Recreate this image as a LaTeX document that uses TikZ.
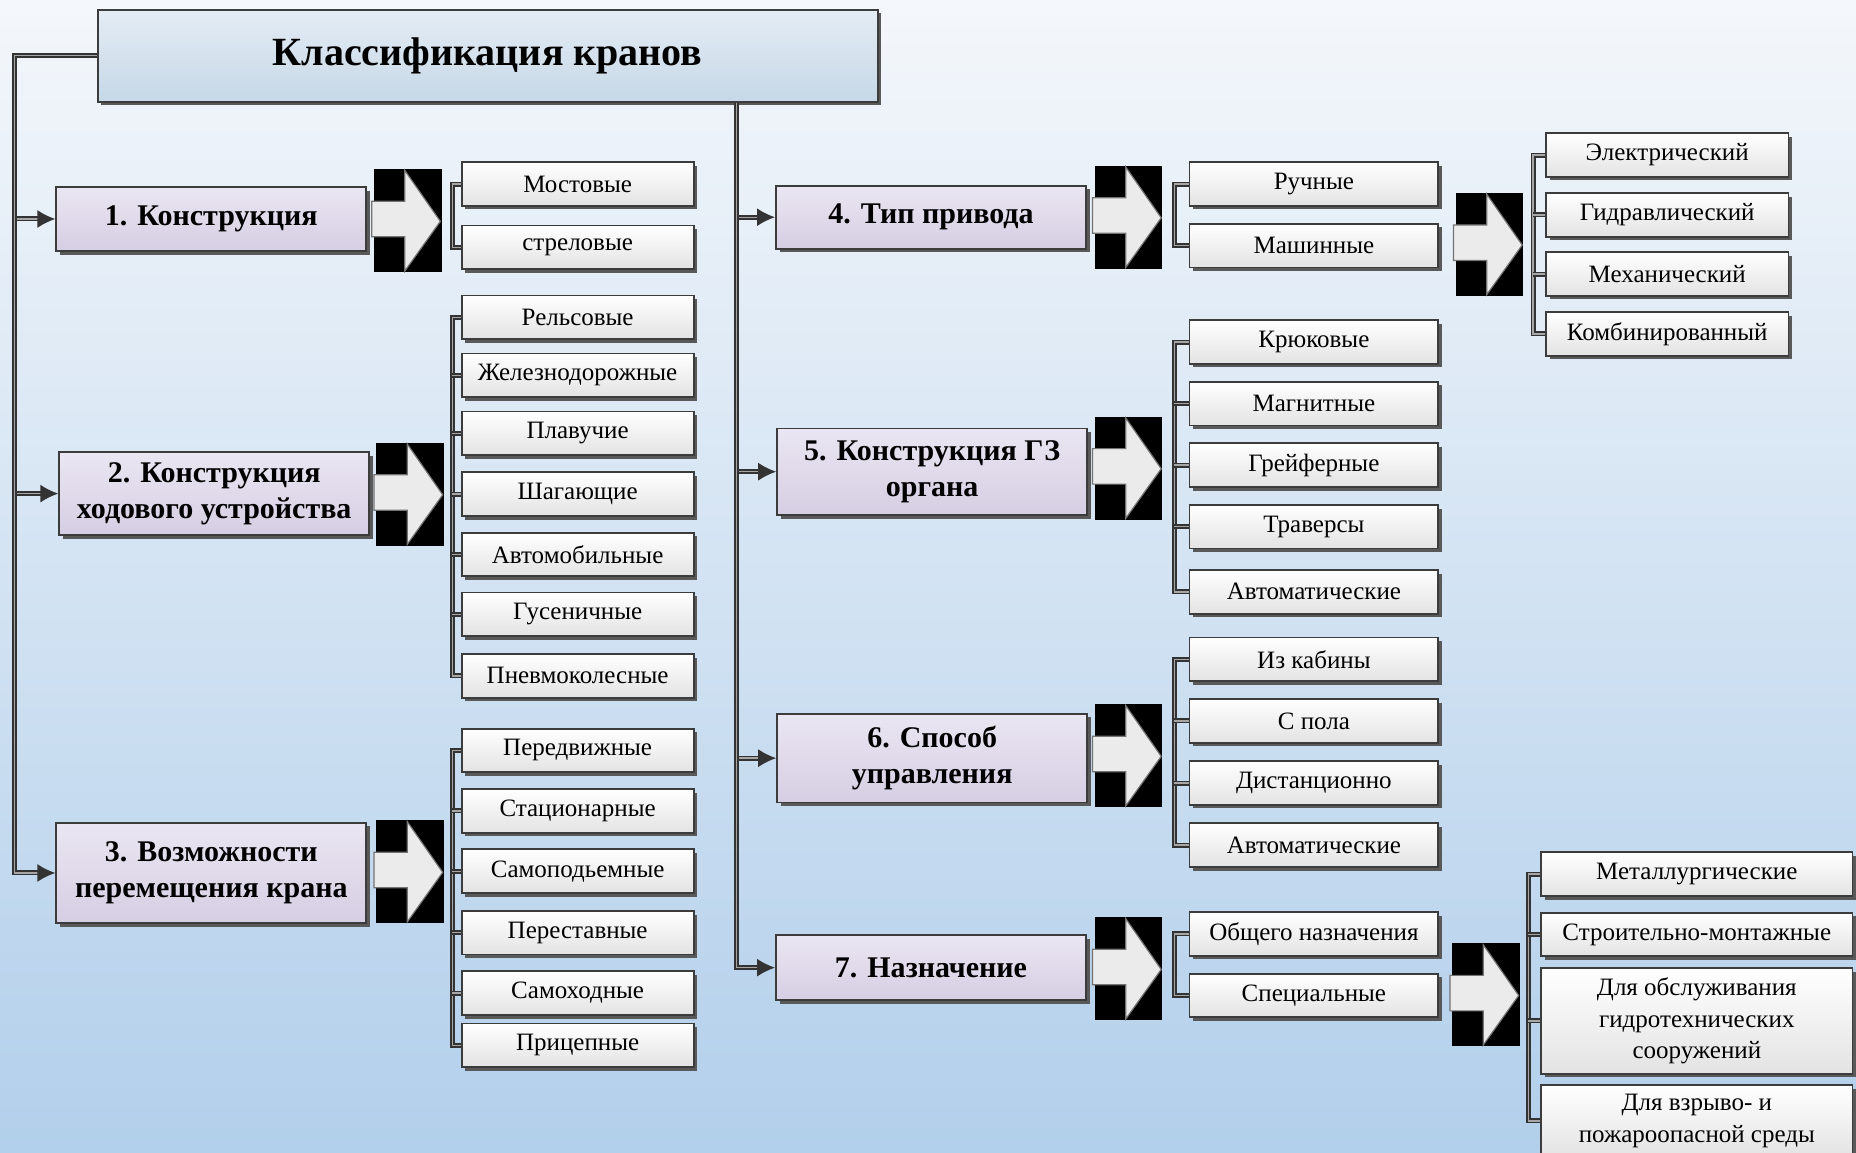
\documentclass[tikz,border=0pt]{standalone}
\usepackage{fontspec}
\setmainfont{Liberation Serif}
\usetikzlibrary{shadows,arrows.meta}

\definecolor{bgtop}{RGB}{244,247,251}
\definecolor{bgbot}{RGB}{178,207,235}
\definecolor{headtop}{RGB}{228,236,244}
\definecolor{headbot}{RGB}{198,216,231}
\definecolor{cattop}{RGB}{234,230,242}
\definecolor{catbot}{RGB}{214,206,227}
\definecolor{edge}{RGB}{60,60,60}

\begin{document}
\begin{tikzpicture}[x=0.5918pt,y=-0.5918pt,
	box/.style={draw=edge,line width=0.9pt,inner sep=1pt,align=center,
		general shadow={fill=black!65,shadow xshift=1.8pt,shadow yshift=-1.8pt}},
	headbox/.style={box,top color=headtop,bottom color=headbot,minimum width=390pt,minimum height=46pt,font=\fontsize{20}{24}\selectfont\bfseries},
	catbox/.style={box,top color=cattop,bottom color=catbot,minimum width=155pt,font=\fontsize{15}{17.8}\selectfont\bfseries},
	leafbox/.style={box,top color=white,bottom color=black!11,minimum height=21.8pt,font=\fontsize{12.5}{15.6}\selectfont},
	link/.style={draw=black!80,line width=0.9pt,double=black!35,double distance=0.7pt},
	tip/.style={-{Latex[length=9pt,width=9pt]}}
	]
	
	\shade[top color=bgtop,bottom color=bgbot] (0,0) rectangle (1568,974);
	\useasboundingbox (0,0) rectangle (1568,974);
	
	\node[headbox] (top) at (412,47) {Классификация кранов};
	
	\node[catbox,minimum height=32pt] (c1) at (178.5,185) {1. Конструкция};
	\node[catbox,minimum height=41.4pt] (c2) at (181,417) {2. Конструкция\\ходового устройства};
	\node[catbox,minimum height=50.3pt] (c3) at (178.5,737.5) {3. Возможности\\перемещения крана};
	\node[catbox,minimum height=31.4pt] (c4) at (786.5,183.5) {4. Тип привода};
	\node[catbox,minimum height=43.2pt] (c5) at (787.5,398.5) {5. Конструкция ГЗ\\органа};
	\node[catbox,minimum height=44.4pt] (c6) at (787.5,640.5) {6. Способ\\управления};
	\node[catbox,minimum height=32.5pt] (c7) at (786.5,817.5) {7. Назначение};
	
	\coordinate (lx) at (12,47);
	\coordinate (mx) at (622,86);
	
	\draw[link,tip] (top.west) -| (lx |- c1.west) -- (c1.west);
	\draw[link,tip] (top.west) -| (lx |- c2.west) -- (c2.west);
	\draw[link,tip] (top.west) -| (lx |- c3.west) -- (c3.west);
	\draw[link,tip] (mx |- top.south) |- (c4.west);
	\draw[link,tip] (mx |- top.south) |- (c5.west);
	\draw[link,tip] (mx |- top.south) |- (c6.west);
	\draw[link,tip] (mx |- top.south) |- (c7.west);
	
	% block arrows
	\foreach \x/\y in {316/143,318/374,318/693,925/140,925/352,925/595,925/775,1230/163,1227/797}{
		\fill[black] (\x,\y) rectangle ++(57,87);
		\filldraw[fill=black!8,draw=black!55,line width=0.6pt] (\x-2,\y+27) -- (\x+26,\y+27) -- (\x+26,\y+1)
			-- (\x+56,\y+44) -- (\x+26,\y+86) -- (\x+26,\y+57) -- (\x-2,\y+57) -- cycle;
	}
	
	\foreach \t/\y[count=\i] in {Мостовые/155.5,стреловые/209}{
		\node[leafbox,minimum width=116pt] (k\i) at (488,\y) {\t};
	}
	\foreach \t/\y[count=\i] in {Рельсовые/268,Железнодорожные/317,Плавучие/366,Шагающие/417.5,Автомобильные/468.5,Гусеничные/519,Пневмоколесные/571}{
		\node[leafbox,minimum width=116pt] (h\i) at (488,\y) {\t};
	}
	\foreach \t/\y[count=\i] in {Передвижные/634,Стационарные/685,Самоподьемные/736,Переставные/788,Самоходные/839,Прицепные/883}{
		\node[leafbox,minimum width=116pt] (p\i) at (488,\y) {\t};
	}
	\foreach \t/\y[count=\i] in {Ручные/155.5,Машинные/207.5}{
		\node[leafbox,minimum width=124.3pt] (t\i) at (1110,\y) {\t};
	}
	\foreach \t/\y[count=\i] in {Крюковые/289,Магнитные/341,Грейферные/393,Траверсы/445,Автоматические/500}{
		\node[leafbox,minimum width=124.3pt] (g\i) at (1110,\y) {\t};
	}
	\foreach \t/\y[count=\i] in {Из кабины/557,С пола/609,Дистанционно/661.5,Автоматические/714}{
		\node[leafbox,minimum width=124.3pt] (u\i) at (1110,\y) {\t};
	}
	\foreach \t/\y[count=\i] in {Общего назначения/789,Специальные/841}{
		\node[leafbox,minimum width=124.3pt] (n\i) at (1110,\y) {\t};
	}
	\foreach \t/\y[count=\i] in {Электрический/131,Гидравлический/181.5,Механический/231.5,Комбинированный/282}{
		\node[leafbox,minimum width=121.3pt] (e\i) at (1408.5,\y) {\t};
	}
	
	\node[leafbox,minimum width=155.6pt] (s1) at (1433.5,738.5) {Металлургические};
	\node[leafbox,minimum width=155.6pt] (s2) at (1433.5,789.5) {Строительно-монтажные};
	\node[leafbox,minimum width=155.6pt,minimum height=52.7pt] (s3) at (1433.5,862.5) {Для обслуживания\\гидротехнических\\сооружений};
	\node[leafbox,minimum width=155.6pt,minimum height=36pt] (s4) at (1433.5,947) {Для взрыво- и\\пожароопасной среды};
	
	% brackets
	\draw[link] (k1.west) -- ++(-7,0) |- (k2.west);
	\draw[link] (h1.west) -- ++(-7,0) |- (h7.west);
	\foreach \i in {2,...,6}{
		\draw[link] (h\i.west) -- ++(-7,0);
	}
	\draw[link] (p1.west) -- ++(-7,0) |- (p6.west);
	\foreach \i in {2,...,5}{
		\draw[link] (p\i.west) -- ++(-7,0);
	}
	\draw[link] (t1.west) -- ++(-12,0) |- (t2.west);
	\draw[link] (g1.west) -- ++(-12,0) |- (g5.west);
	\foreach \i in {2,...,4}{
		\draw[link] (g\i.west) -- ++(-12,0);
	}
	\draw[link] (u1.west) -- ++(-12,0) |- (u4.west);
	\foreach \i in {2,3}{
		\draw[link] (u\i.west) -- ++(-12,0);
	}
	\draw[link] (n1.west) -- ++(-12,0) |- (n2.west);
	\draw[link] (e1.west) -- ++(-10,0) |- (e4.west);
	\foreach \i in {2,3}{
		\draw[link] (e\i.west) -- ++(-10,0);
	}
	\draw[link] (s1.west) -- ++(-10,0) |- (s4.west);
	\foreach \i in {2,3}{
		\draw[link] (s\i.west) -- ++(-10,0);
	}
\end{tikzpicture}
\end{document}
